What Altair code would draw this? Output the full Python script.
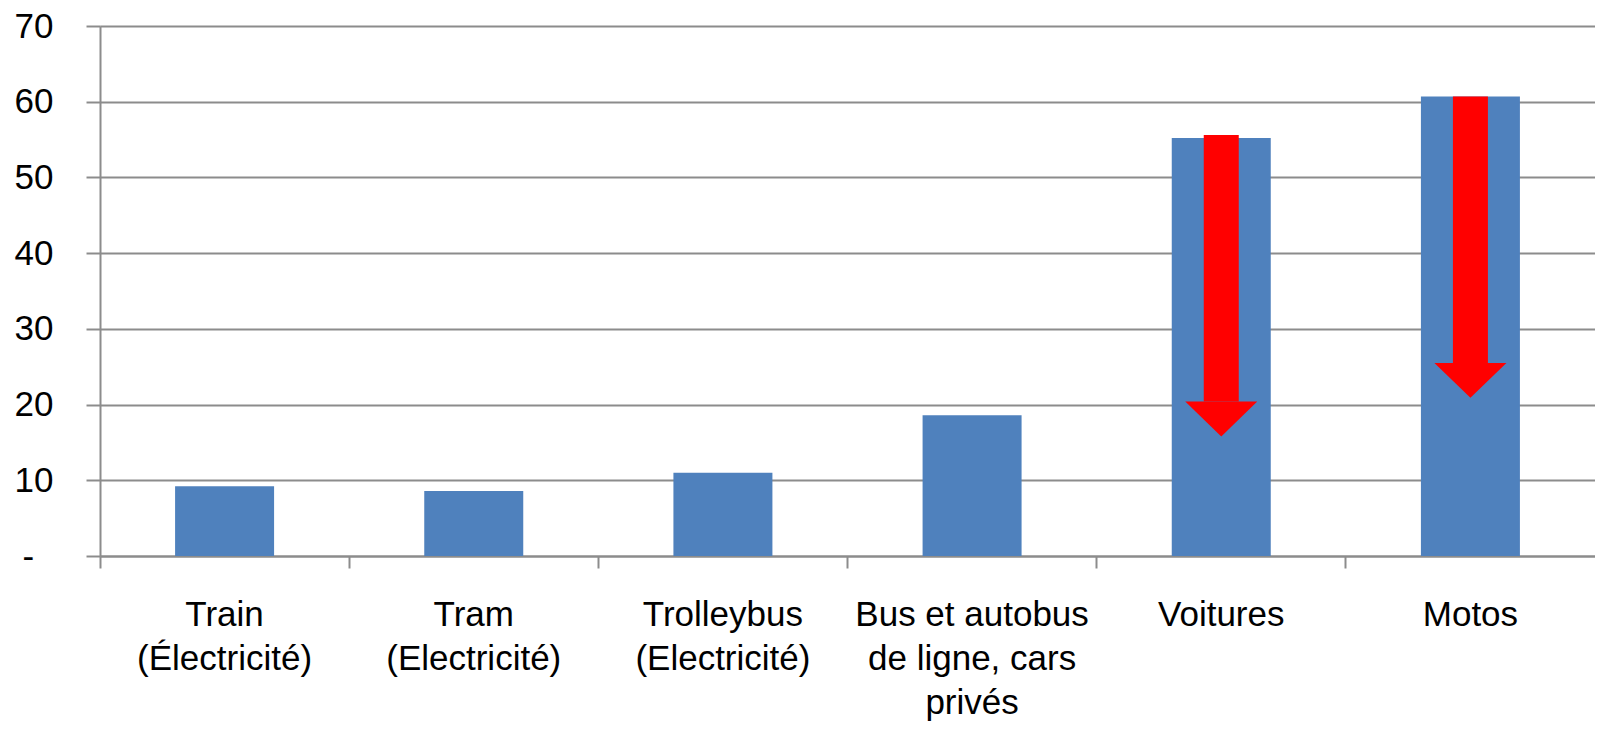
import altair as alt
import pandas as pd

# ---- data ----
categories = [
    "Train\n(Électricité)",
    "Tram\n(Electricité)",
    "Trolleybus\n(Electricité)",
    "Bus et autobus\nde ligne,  cars\nprivés",
    "Voitures",
    "Motos",
]
values = [9.2, 8.6, 11.0, 18.6, 55.2, 60.7]

arrow_categories = ["Voitures", "Motos"]
arrow_start = [55.6, 60.7]   # top of the red arrow shaft
arrow_head = [20.4, 25.5]    # where the arrow head begins

y_ticks = [0, 10, 20, 30, 40, 50, 60, 70]

# ---- style ----
BLUE = "#4F81BD"
RED = "#FF0000"
GRAY = "#8C8C8C"
FONT = "Liberation Sans"
FS = 35

bars_df = pd.DataFrame({"cat": categories, "value": values})
arrows_df = pd.DataFrame({"cat": arrow_categories, "start": arrow_start, "head": arrow_head})

x_enc = alt.X(
    "cat:N",
    sort=categories,
    scale=alt.Scale(paddingInner=0, paddingOuter=0),
    axis=alt.Axis(
        title=None,
        labelAngle=0,
        labelExpr="split(datum.label, '\\n')",
        labelFont=FONT,
        labelFontSize=FS,
        labelLineHeight=44,
        labelBaseline="alphabetic",
        labelPadding=57,
        labelLimit=400,
        labelColor="#000000",
        labelOverlap=False,
        tickSize=12,
        tickColor=GRAY,
        tickWidth=2,
        domainColor=GRAY,
        domainWidth=2,
        bandPosition=0,
        grid=False,
    ),
)

y_scale = alt.Scale(domain=[0, 70], nice=False)

bars = alt.Chart(bars_df).mark_bar(color=BLUE, size=99).encode(
    x=x_enc,
    y=alt.Y(
        "value:Q",
        scale=y_scale,
        axis=alt.Axis(
            title=None,
            values=y_ticks,
            labelExpr="datum.value == 0 ? '-\u00a0\u00a0\u200b' : datum.label",
            labelFont=FONT,
            labelFontSize=FS,
            labelColor="#000000",
            labelPadding=33,
            tickSize=14,
            tickColor=GRAY,
            tickWidth=2,
            domainColor=GRAY,
            domainWidth=2,
            grid=True,
            gridColor=GRAY,
            gridWidth=2,
        ),
    ),
)

shafts = alt.Chart(arrows_df).mark_bar(color=RED, size=35).encode(
    x=alt.X("cat:N", sort=categories),
    y=alt.Y("start:Q", scale=y_scale),
    y2="head:Q",
)

heads = alt.Chart(arrows_df).mark_point(
    shape="M-1,0L1,0L0,0.97Z",
    size=5184,
    filled=True,
    color=RED,
    opacity=1,
    strokeWidth=0,
).encode(
    x=alt.X("cat:N", sort=categories),
    y=alt.Y("head:Q", scale=y_scale),
)

chart = (
    alt.layer(bars, shafts, heads)
    .properties(
        width=1495,
        height=530,
        autosize=alt.AutoSizeParams(type="none"),
        padding={"left": 92, "top": 18, "right": 0, "bottom": 165},
    )
    .configure_view(stroke=None)
    .configure(background="white")
)

chart.save("out.html", embed_options={"renderer": "svg", "actions": False})
